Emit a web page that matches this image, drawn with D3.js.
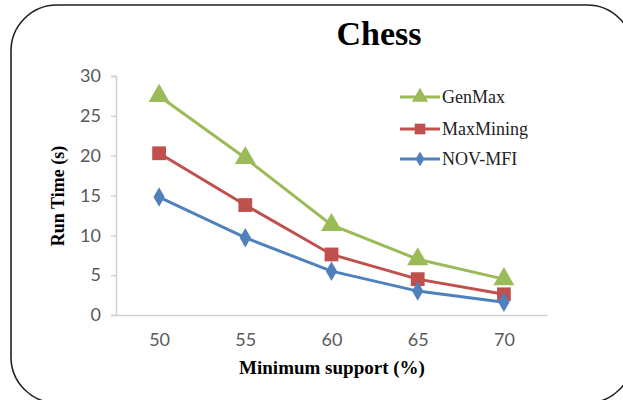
<!DOCTYPE html>
<html><head><meta charset="utf-8">
<script src="https://cdn.jsdelivr.net/npm/d3@7"></script>
<style>body{margin:0;background:#fff}svg{display:block}</style>
</head><body><svg id="c" width="623" height="400"></svg>
<script>
const categories = ["50","55","60","65","70"];
const seriesNames = ["GenMax","MaxMining","NOV-MFI"];
const genMax = [27.5, 19.7, 11.3, 7.0, 4.5];
const maxMining = [20.3, 13.8, 7.6, 4.5, 2.6];
const novMfi = [14.8, 9.7, 5.5, 3.0, 1.6];
const yTicks = [0,5,10,15,20,25,30];
const colors = ["#9BBB59","#C0504D","#4F81BD"];
const symbols = [d3.symbolTriangle, d3.symbolSquare, d3.symbolDiamond];
const symSizes = [190, 190, 110];
const series = [genMax, maxMining, novMfi];

const svg = d3.select("#c");
svg.append("rect").attr("x",11).attr("y",5).attr("width",622).attr("height",398)
  .attr("rx",46).attr("ry",46).attr("fill","none").attr("stroke","#222").attr("stroke-width",1.6);

const x = d3.scalePoint().domain(categories).range([116,547]).padding(0.5);
const y = d3.scaleLinear().domain([0,30]).range([315,76]);

const ya = svg.append("g").attr("transform","translate(116,0)")
  .call(d3.axisLeft(y).tickValues(yTicks).tickSize(5).tickPadding(10));
ya.select(".domain").attr("stroke","#D0D0D0").attr("stroke-width",1.5);
ya.selectAll(".tick line").attr("stroke","#D0D0D0").attr("stroke-width",1.5);
ya.selectAll("text").attr("fill","#595959").style("font-family","Lato, sans-serif").style("font-size","18px");

const xa = svg.append("g").attr("transform","translate(0,315)")
  .call(d3.axisBottom(x).tickSize(0).tickPadding(18).tickSizeOuter(0));
xa.select(".domain").attr("stroke","#D0D0D0").attr("stroke-width",1.5);
xa.selectAll("text").attr("fill","#595959").style("font-family","Lato, sans-serif").style("font-size","18px");

const line = d3.line().x((d,i)=>x(categories[i])).y(d=>y(d));
series.forEach((s,k)=>{
  svg.append("path").datum(s).attr("d",line).attr("fill","none")
    .attr("stroke",colors[k]).attr("stroke-width",3);
  svg.append("g").selectAll("path").data(s).join("path")
    .attr("transform",(d,i)=>`translate(${x(categories[i])},${y(d)})`)
    .attr("d",d3.symbol().type(symbols[k]).size(symSizes[k]))
    .attr("fill",colors[k]);
});

svg.append("text").attr("x",379).attr("y",45).attr("text-anchor","middle")
  .style("font-family","'Liberation Serif', 'Times New Roman', serif").style("font-weight","bold")
  .style("font-size","34px").text("Chess");

svg.append("text").attr("x",332).attr("y",374).attr("text-anchor","middle")
  .style("font-family","'Liberation Serif', serif").style("font-weight","bold")
  .style("font-size","19px").text("Minimum support (%)");
svg.append("text").attr("transform","translate(64,196) rotate(-90)").attr("text-anchor","middle")
  .style("font-family","'Liberation Serif', serif").style("font-weight","bold")
  .style("font-size","18px").text("Run Time (s)");

const legY = [97, 129, 159];
seriesNames.forEach((n,k)=>{
  const g = svg.append("g").attr("transform",`translate(0,${legY[k]})`);
  g.append("line").attr("x1",400).attr("x2",440).attr("y1",0).attr("y2",0)
    .attr("stroke",colors[k]).attr("stroke-width",3);
  g.append("path").attr("transform","translate(420,0)")
    .attr("d",d3.symbol().type(symbols[k]).size(symSizes[k]*0.6)).attr("fill",colors[k]);
  g.append("text").attr("x",442).attr("y",6)
    .style("font-family","'Liberation Serif', serif").style("font-size","18px")
    .attr("fill","#222").text(n);
});
</script></body></html>
